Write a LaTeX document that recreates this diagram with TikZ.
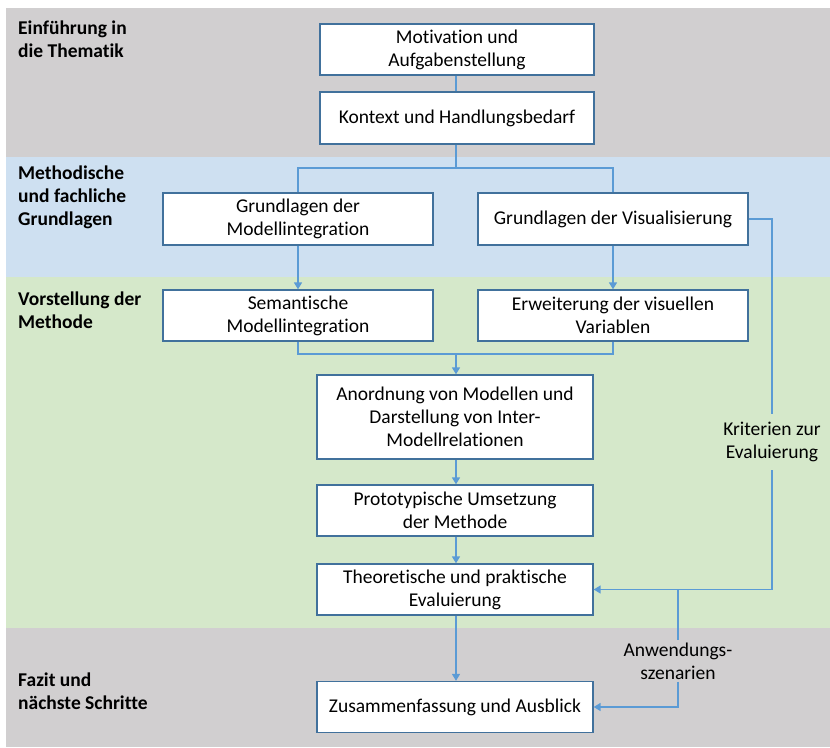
\documentclass[tikz,border=0pt]{standalone}
\usepackage{fontspec}
\setmainfont{Carlito}[Ligatures=NoCommon]
\usetikzlibrary{arrows.meta}
\definecolor{bandgray}{HTML}{D1CFD0}
\definecolor{bandblue}{HTML}{CEE0F1}
\definecolor{bandgreen}{HTML}{D5E8CA}
\definecolor{boxline}{HTML}{41719C}
\definecolor{flow}{HTML}{5B9BD5}
\begin{document}
\begin{tikzpicture}[x=1pt,y=-1pt,
  every node/.style={font=\fontsize{19.5}{23}\selectfont},
  stepbox/.style={draw=boxline, line width=1.3pt, fill=white, align=center,
    inner sep=0pt, minimum height=51pt},
  phase/.style={font=\fontsize{19.5}{23}\selectfont\bfseries, align=left,
    anchor=west, inner sep=0pt},
  link/.style={draw=flow, line width=1.5pt},
  arr/.style={link, -{Triangle[width=8pt,length=7pt]}},
  note/.style={align=center, inner xsep=2pt}
]
\useasboundingbox (0,0) rectangle (830,747);

% phase bands
\fill[bandgray]  (6,8)   rectangle (830,157);
\fill[bandblue]  (6,157) rectangle (830,277);
\fill[bandgreen] (6,277) rectangle (830,628);
\fill[bandgray]  (6,628) rectangle (830,747);

% phase titles
\node[phase] (p1) at (18,39)  {Einführung in\\die Thematik};
\node[phase] (p2) at (18,197) {Methodische\\und fachliche\\Grundlagen};
\node[phase] (p3) at (18,310) {Vorstellung der\\Methode};
\node[phase] (p4) at (18,691) {Fazit und\\nächste Schritte};

% steps
\node[stepbox, minimum width=274pt] (mot) at (457,49.5)  {Motivation und\\Aufgabenstellung};
\node[stepbox, minimum width=274pt, minimum height=52pt] (kon) at (457,118) {Kontext und Handlungsbedarf};
\node[stepbox, minimum width=270pt, minimum height=52pt] (gm)  at (298,219)   {Grundlagen der\\Modellintegration};
\node[stepbox, minimum width=270pt, minimum height=52pt] (gv)  at (613,219)   {Grundlagen der Visualisierung};
\node[stepbox, minimum width=270pt] (sem) at (298,315.5) {Semantische\\Modellintegration};
\node[stepbox, minimum width=270pt] (erw) at (613,315.5) {Erweiterung der visuellen\\Variablen};
\node[stepbox, minimum width=276pt, minimum height=84pt] (ano) at (455,417) {Anordnung von Modellen und\\Darstellung von Inter-\\Modellrelationen};
\node[stepbox, minimum width=276pt] (pro) at (455,510.5) {Prototypische Umsetzung\\der Methode};
\node[stepbox, minimum width=276pt] (the) at (455,589.5) {Theoretische und praktische\\Evaluierung};
\node[stepbox, minimum width=276pt] (zus) at (455,707)   {Zusammenfassung und Ausblick};

% side labels on the feedback lines
\node[note, inner ysep=8pt] (krit) at (772,442) {Kriterien zur\\Evaluierung};
\node[note, inner ysep=2pt] (anw)  at (678,661) {Anwendungs-\\szenarien};

% connectors
\coordinate (ksplit) at (456,168);
\coordinate (merge)  at (456,354);
\coordinate (asplit) at (678,589.5);

\draw[link] (mot.south -| ksplit) -- (kon.north -| ksplit);
\draw[link] (kon.south -| ksplit) -- (ksplit);
\draw[link] (gm.north) |- (ksplit);
\draw[link] (gv.north) |- (ksplit);
\draw[arr] (gm.south) -- (sem.north);
\draw[arr] (gv.south) -- (erw.north);
\draw[link] (sem.south) |- (merge) -| (erw.south);
\draw[arr] (merge) -- (ano.north -| merge);
\draw[arr] (ano.south -| merge) -- (pro.north -| merge);
\draw[arr] (pro.south -| merge) -- (the.north -| merge);
\draw[arr] (the.south -| merge) -- (zus.north -| merge);
\draw[link] (gv.east) -| (krit.north);
\draw[arr] (krit.south) |- (the.east);
\draw[link] (asplit) -- (anw.north);
\draw[arr] (anw.south) |- (zus.east);
\end{tikzpicture}
\end{document}
